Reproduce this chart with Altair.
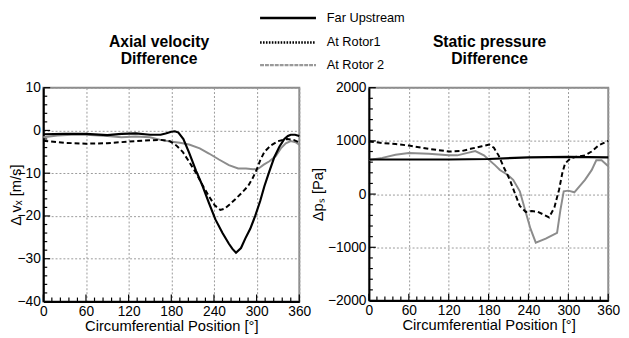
import altair as alt
import pandas as pd

# ---------------- data ----------------
# Left panel: axial velocity difference [m/s]
vx_far_deg = [0, 30, 60, 90, 110, 130, 150, 165, 172, 180, 185, 190, 197, 205, 215, 224, 233, 242,
              252, 261, 266, 271, 278, 284, 291, 298, 305, 311, 318, 325, 332, 339, 344, 348, 354, 360]
vx_far_val = [-0.9, -0.8, -0.8, -1.1, -0.8, -0.7, -1.0, -1.0, -0.7, -0.3, -0.2, -0.5, -2.0, -5.2, -9.5,
              -13.0, -17.0, -20.8, -24.0, -26.5, -27.7, -28.6, -27.5, -25.3, -23.0, -20.0, -16.5, -13.0,
              -9.5, -6.2, -3.8, -2.0, -1.3, -1.0, -1.0, -1.3]

vx_r1_deg = [0, 30, 60, 90, 120, 150, 165, 178, 187, 196, 205, 215, 224, 233, 241, 249, 255, 262, 270,
             279, 288, 294, 300, 305, 311, 320, 330, 343, 352, 360]
vx_r1_val = [-2.4, -2.9, -3.1, -3.0, -2.6, -2.3, -2.2, -2.5, -3.5, -5.0, -7.3, -10.0, -12.8, -15.4, -17.5,
             -18.6, -18.3, -17.3, -16.1, -14.6, -13.0, -11.3, -9.2, -7.0, -5.0, -3.5, -2.5, -2.0, -2.2, -2.8]

vx_r2_deg = [0, 20, 40, 60, 90, 110, 130, 150, 165, 178, 192, 205, 220, 233, 247, 261, 274, 285, 295,
             302, 310, 318, 327, 334, 341, 348, 355, 360]
vx_r2_val = [-1.6, -1.2, -1.0, -1.0, -1.3, -1.6, -1.4, -1.6, -2.2, -2.6, -2.9, -3.3, -4.2, -5.4, -6.8,
             -8.1, -8.9, -8.9, -9.1, -9.0, -8.0, -7.2, -6.0, -4.2, -3.0, -2.5, -2.8, -3.3]

# Right panel: static pressure difference [Pa]
ps_far_deg = [0, 60, 120, 180, 240, 300, 360]
ps_far_val = [650, 650, 650, 660, 690, 700, 690]

ps_r1_deg = [0, 20, 40, 60, 90, 121, 140, 153, 170, 181, 188, 195, 203, 212, 220, 227, 236, 245, 254,
             262, 271, 279, 286, 291, 295, 303, 310, 325, 335, 345, 360]
ps_r1_val = [990, 960, 940, 912, 850, 800, 810, 851, 900, 930, 870, 728, 500, 267, 0, -224, -335, -320,
             -335, -380, -438, -250, 83, 400, 575, 670, 697, 728, 800, 912, 1000]

ps_r2_deg = [0, 20, 40, 60, 90, 120, 133, 150, 160, 173, 180, 190, 197, 209, 217, 227, 236, 243, 251,
             266, 283, 288, 293, 300, 309, 317, 325, 335, 342, 350, 360]
ps_r2_val = [640, 680, 740, 771, 760, 728, 728, 780, 808, 728, 649, 540, 452, 360, 267, 52, -347, -650,
             -912, -839, -728, -300, 52, 65, 34, 150, 267, 450, 636, 636, 525]

# axis ticks
x_major = [0, 60, 120, 180, 240, 300, 360]
x_minor = [d for d in range(0, 361, 12) if d % 60]
vx_major = [-40, -30, -20, -10, 0, 10]
vx_minor = [v for v in range(-40, 11, 2) if v % 10]
ps_major = [-2000, -1000, 0, 1000, 2000]
ps_minor = [v for v in range(-2000, 2001, 200) if v % 1000]

series_names = ["Far Upstream", "At Rotor1", "At Rotor 2"]

FONT = "Liberation Sans"
GRAY = "#8c8c8c"


def df(deg, val):
    return pd.DataFrame({"deg": deg, "val": val})


def one(label):
    return pd.DataFrame({"t": [label]})


def panel(W, H, ydom, ytitle, title_x, far, r1, r2, y_major, y_minor, title_lines, title_cx, legend):
    xs = alt.Scale(domain=[0, 360], nice=False, zero=False)
    ys = alt.Scale(domain=ydom, nice=False, zero=False)
    x_axis = alt.Axis(values=x_major, title="Circumferential Position [°]", grid=True, ticks=False,
                      labelFlush=False, labelPadding=3, titlePadding=1, format="d")
    y_axis = alt.Axis(values=y_major, title=ytitle, grid=True, ticks=False, labelPadding=3,
                      titleX=title_x, format="d")
    X = alt.X("deg:Q", scale=xs, axis=x_axis)
    Y = alt.Y("val:Q", scale=ys, axis=y_axis)

    layers = []
    # inward ticks
    layers.append(alt.Chart(pd.DataFrame({"deg": x_major})).mark_rule(color="black", strokeWidth=1.2)
                  .encode(x=X, y=alt.value(H), y2=alt.value(H - 7)))
    layers.append(alt.Chart(pd.DataFrame({"deg": x_minor})).mark_rule(color="black", strokeWidth=1.2)
                  .encode(x=X, y=alt.value(H), y2=alt.value(H - 4)))
    layers.append(alt.Chart(pd.DataFrame({"val": y_major})).mark_rule(color="black", strokeWidth=1.2)
                  .encode(y=Y, x=alt.value(0), x2=alt.value(7)))
    layers.append(alt.Chart(pd.DataFrame({"val": y_minor})).mark_rule(color="black", strokeWidth=1.2)
                  .encode(y=Y, x=alt.value(0), x2=alt.value(4)))

    # data lines
    layers.append(alt.Chart(df(*r2)).mark_line(color=GRAY, strokeWidth=2).encode(x=X, y=Y))
    layers.append(alt.Chart(df(*r1)).mark_line(color="black", strokeWidth=2, strokeDash=[5, 3])
                  .encode(x=X, y=Y))
    layers.append(alt.Chart(df(*far)).mark_line(color="black", strokeWidth=2.2).encode(x=X, y=Y))

    # panel title
    for line, cy in zip(title_lines, [-46, -29]):
        layers.append(alt.Chart(one(line)).mark_text(font=FONT, fontSize=16, fontWeight="bold",
                                                     align="center", baseline="middle", color="black")
                      .encode(text="t:N", x=alt.value(title_cx), y=alt.value(cy)))

    if legend:
        styles = [dict(color="black", strokeWidth=2.5),
                  dict(color="black", strokeWidth=2.5, strokeDash=[1.6, 1.4]),
                  dict(color="#999999", strokeWidth=2.5, strokeDash=[4, 1])]
        for name, st, cy in zip(series_names, styles, [-71, -46, -23]):
            layers.append(alt.Chart(one(name)).mark_rule(**st)
                          .encode(x=alt.value(221), x2=alt.value(278), y=alt.value(cy)))
            layers.append(alt.Chart(one(name)).mark_text(font=FONT, fontSize=13, align="left",
                                                         baseline="middle", color="black")
                          .encode(text="t:N", x=alt.value(289), y=alt.value(cy)))

    return alt.layer(*layers).properties(width=W, height=H)


left = panel(261, 218, [-40, 10], "Δ vₓ [m/s]", -20,
             (vx_far_deg, vx_far_val), (vx_r1_deg, vx_r1_val), (vx_r2_deg, vx_r2_val),
             vx_major, vx_minor, ["Axial velocity", "Difference"], 118, True)
right = panel(244, 217, [-2000, 2000], "Δpₛ [Pa]", -44,
              (ps_far_deg, ps_far_val), (ps_r1_deg, ps_r1_val), (ps_r2_deg, ps_r2_val),
              ps_major, ps_minor, ["Static pressure", "Difference"], 123, False)

chart = alt.hconcat(left, right, spacing=71, bounds="flush").properties(
    padding={"left": 0, "top": 0, "right": 0, "bottom": 0}
).configure_view(
    stroke=GRAY, strokeWidth=2
).configure_axis(
    labelFont=FONT, titleFont=FONT, labelFontSize=14, titleFontSize=15, titleFontWeight="normal",
    labelColor="black", titleColor="black", domainColor="black", domainWidth=2,
    gridColor="#999999", gridDash=[2, 2], gridWidth=1
)

chart.save("out.html", embed_options={"renderer": "svg", "actions": False})
